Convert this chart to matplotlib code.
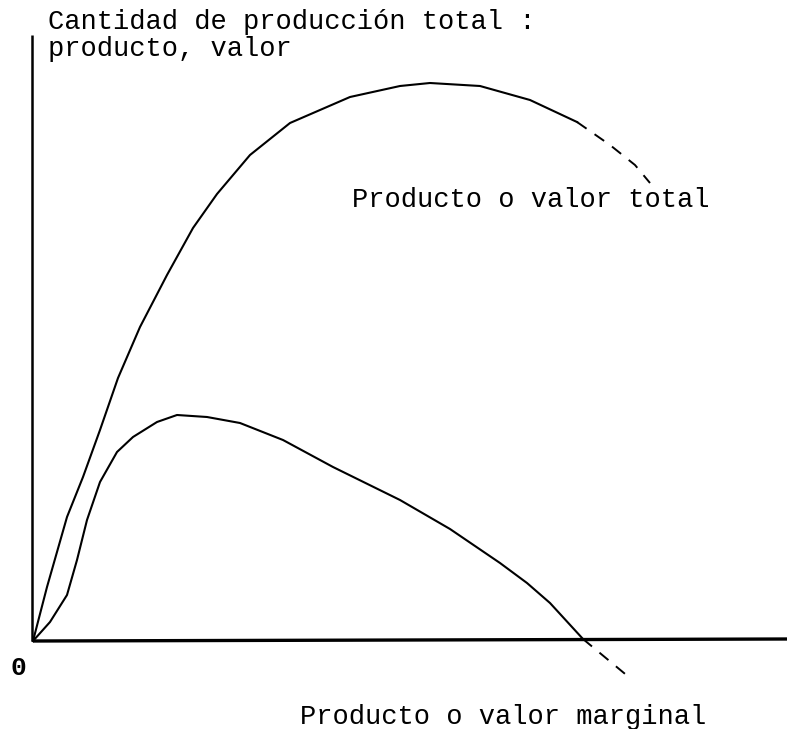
import numpy as np
import matplotlib.pyplot as plt

# curve readings (distance from origin, picture units)
total_x = [0, 14, 34, 50, 67, 85, 107, 134, 160, 184, 217, 257, 317, 367, 397, 447, 497, 544]
total_y = [0, 54, 124, 164, 211, 263, 314, 366, 413, 447, 486, 518, 544, 555, 558, 555, 541, 519]
total_dash_x = [544, 577, 602, 617]
total_dash_y = [519, 496, 476, 458]

marg_x = [0, 17, 34, 44, 54, 67, 84, 100, 124, 144, 174, 207, 250, 300, 367, 417, 467, 494, 517, 550]
marg_y = [0, 19, 46, 81, 121, 159, 189, 204, 219, 226, 224, 218, 201, 174, 141, 112, 78, 58, 38, 2]
marg_dash_x = [550, 597]
marg_dash_y = [2, -37]

title = "Cantidad de producción total :\nproducto, valor"
lbl_total = "Producto o valor total"
lbl_marg = "Producto o valor marginal"

fig = plt.figure(figsize=(7.87, 7.29), dpi=100)
ax = fig.add_axes([0, 0, 1, 1])
ax.set_xlim(-33, 754)
ax.set_ylim(-88, 641)
ax.axis('off')

mono = 'Liberation Mono'

# axes
ax.plot([-1, -1], [0, 606], color='black', lw=1.8, solid_capstyle='butt')
ax.plot([0, 754], [0, 2], color='black', lw=2.4, solid_capstyle='butt')

# curves
ax.plot(total_x, total_y, color='black', lw=1.5)
ax.plot(total_dash_x, total_dash_y, color='black', lw=1.4, dashes=(6, 5))
ax.plot(marg_x, marg_y, color='black', lw=1.5)
ax.plot(marg_dash_x, marg_dash_y, color='black', lw=1.4, dashes=(6, 5))

ax.text(15, 632, title, family=mono, fontsize=19.5, va='top', ha='left', linespacing=1.05)
ax.text(319, 441, lbl_total, family=mono, fontsize=19.5, va='center', ha='left')
ax.text(267, -76, lbl_marg, family=mono, fontsize=19.5, va='center', ha='left')
ax.text(-15, -27, "0", family=mono, fontsize=19, fontweight='bold', va='center', ha='center')

fig.savefig('out.png', dpi=100)
